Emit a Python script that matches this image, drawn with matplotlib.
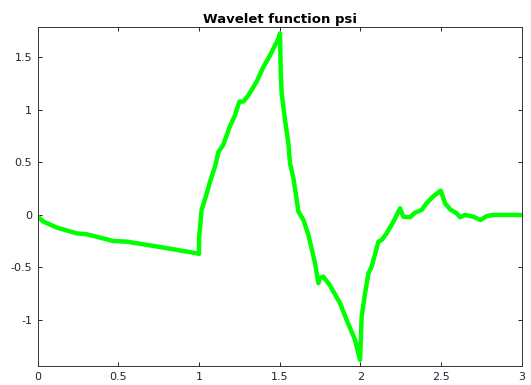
import matplotlib
matplotlib.use('Agg')
import matplotlib.pyplot as plt

# values
x = [0.0, 0.035, 0.118, 0.242, 0.304, 0.469, 0.552, 0.738, 0.986, 1.0, 1.0,
     1.016, 1.048, 1.068, 1.099, 1.12, 1.15, 1.19, 1.223, 1.25, 1.275, 1.306,
     1.357, 1.399, 1.44, 1.492, 1.502, 1.506, 1.512, 1.533, 1.554, 1.564,
     1.585, 1.616, 1.647, 1.678, 1.719, 1.74, 1.75, 1.77, 1.81, 1.874, 1.915,
     1.967, 1.998, 2.008, 2.029, 2.05, 2.07, 2.112, 2.132, 2.163, 2.205,
     2.236, 2.246, 2.266, 2.308, 2.339, 2.38, 2.41, 2.45, 2.498, 2.525,
     2.556, 2.597, 2.618, 2.649, 2.70, 2.744, 2.785, 2.826, 3.0]
psi = [-0.016, -0.063, -0.12, -0.175, -0.184, -0.248, -0.254, -0.30, -0.365,
       -0.371, -0.22, 0.048, 0.206, 0.317, 0.46, 0.60, 0.667, 0.84, 0.95,
       1.08, 1.08, 1.14, 1.27, 1.41, 1.52, 1.68, 1.73, 1.38, 1.16, 0.905,
       0.68, 0.49, 0.35, 0.032, -0.048, -0.19, -0.46, -0.65, -0.60, -0.587,
       -0.667, -0.84, -1.0, -1.19, -1.38, -0.968, -0.746, -0.556, -0.49,
       -0.254, -0.238, -0.175, -0.063, 0.032, 0.063, -0.016, -0.022, 0.022,
       0.048, 0.111, 0.175, 0.232, 0.111, 0.054, 0.016, -0.022, 0.0, -0.016,
       -0.048, -0.01, 0.0, 0.0]
xticks = [0, 0.5, 1, 1.5, 2, 2.5, 3]
xticklabels = ['0', '0.5', '1', '1.5', '2', '2.5', '3']
yticks = [-1, -0.5, 0, 0.5, 1, 1.5]
yticklabels = ['-1', '-0.5', '0', '0.5', '1', '1.5']

fig = plt.figure(figsize=(5.31, 3.85), dpi=100)
ax = fig.add_axes([0.071, 0.0486, 0.9115, 0.8804])
ax.plot(x, psi, color='#00ff00', linewidth=3.2, solid_joinstyle='round')
ax.set_xlim(0, 3)
ax.set_ylim(-1.441, 1.787)
ax.set_xticks(xticks)
ax.set_xticklabels(xticklabels)
ax.set_yticks(yticks)
ax.set_yticklabels(yticklabels)
ax.tick_params(direction='in', top=True, right=True, labelsize=8,
               labelcolor='#222233', length=3, width=0.6, pad=4)
for s in ax.spines.values():
    s.set_linewidth(0.7)
    s.set_color('#333333')
ax.set_title('Wavelet function psi', fontsize=9.5, fontweight='bold', pad=3)

fig.savefig('out.png', dpi=100)
